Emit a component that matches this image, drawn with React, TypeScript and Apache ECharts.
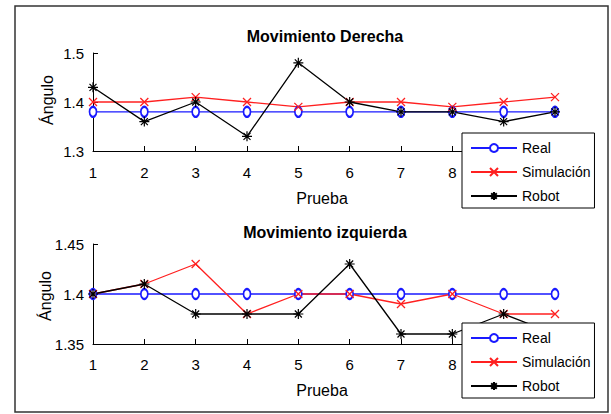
import React, { useEffect, useRef } from "react";
import * as echarts from "echarts";

const pruebas = [1, 2, 3, 4, 5, 6, 7, 8, 9, 10];
// tick labels of "Prueba" left visible (9 and 10 sit under the legend box)
const xTickLabels = ["1", "2", "3", "4", "5", "6", "7", "8"];

const derReal = [1.38, 1.38, 1.38, 1.38, 1.38, 1.38, 1.38, 1.38, 1.38, 1.38];
const derSim = [1.4, 1.4, 1.41, 1.4, 1.39, 1.4, 1.4, 1.39, 1.4, 1.41];
const derRobot = [1.43, 1.36, 1.4, 1.33, 1.48, 1.4, 1.38, 1.38, 1.36, 1.38];

const izqReal = [1.4, 1.4, 1.4, 1.4, 1.4, 1.4, 1.4, 1.4, 1.4, 1.4];
const izqSim = [1.4, 1.41, 1.43, 1.38, 1.4, 1.4, 1.39, 1.4, 1.38, 1.38];
const izqRobot = [1.4, 1.41, 1.38, 1.38, 1.38, 1.43, 1.36, 1.36, 1.38, 1.36];

const seriesNames = ["Real", "Simulación", "Robot"];
const titles = ["Movimiento Derecha", "Movimiento izquierda"];
const xName = "Prueba";
const yName = "Ángulo";

const FONT = "Liberation Sans";
const BLUE = "#1a1aff";
const RED = "#ff2020";
const BLACK = "#000000";

const X_SYMBOL = "path://M0,0L10,10M10,0L0,10";
const STAR_SYMBOL = "path://M5,0L5,10M0,5L10,5M1.5,1.5L8.5,8.5M8.5,1.5L1.5,8.5";

function pairs(vals: number[]) {
  return pruebas.map((p, i) => [p, vals[i]]);
}

function makeSeries(idx: number, real: number[], sim: number[], robot: number[]) {
  return [
    {
      name: seriesNames[0],
      type: "line",
      xAxisIndex: idx,
      yAxisIndex: idx,
      data: pairs(real),
      symbol: "emptyCircle",
      symbolSize: [7, 10],
      lineStyle: { color: BLUE, width: 1.3 },
      itemStyle: { color: BLUE, borderColor: BLUE, borderWidth: 1.3 },
    },
    {
      name: seriesNames[1],
      type: "line",
      xAxisIndex: idx,
      yAxisIndex: idx,
      data: pairs(sim),
      symbol: X_SYMBOL,
      symbolSize: [8, 8],
      lineStyle: { color: RED, width: 1.3 },
      itemStyle: { color: RED, borderColor: RED, borderWidth: 1.3 },
    },
    {
      name: seriesNames[2],
      type: "line",
      xAxisIndex: idx,
      yAxisIndex: idx,
      data: pairs(robot),
      symbol: STAR_SYMBOL,
      symbolSize: [10, 10],
      lineStyle: { color: BLACK, width: 1.3 },
      itemStyle: { color: BLACK, borderColor: BLACK, borderWidth: 1.2 },
    },
  ];
}

function xAxisCfg(gridIndex: number, margin: number) {
  return {
    type: "value",
    gridIndex,
    min: 1,
    max: 10,
    interval: 1,
    axisLine: { show: true, lineStyle: { color: "#000", width: 1 } },
    axisTick: { show: true, inside: true, length: 5, lineStyle: { color: "#000" } },
    axisLabel: {
      color: "#000",
      fontSize: 15,
      fontFamily: FONT,
      margin,
      formatter: (v: number) => (xTickLabels.includes(String(v)) ? String(v) : ""),
    },
    splitLine: { show: false },
  };
}

function yAxisCfg(gridIndex: number, min: number, max: number, interval: number) {
  return {
    type: "value",
    gridIndex,
    min,
    max,
    interval,
    axisLine: { show: true, lineStyle: { color: "#000", width: 1 } },
    axisTick: { show: true, inside: true, length: 5, lineStyle: { color: "#000" } },
    axisLabel: { color: "#000", fontSize: 15, fontFamily: FONT, margin: 9 },
    splitLine: { show: false },
  };
}

function legendCfg(top: number) {
  return {
    data: seriesNames,
    orient: "vertical",
    left: 462,
    top,
    padding: [8, 4, 5, 8],
    itemGap: 10,
    itemWidth: 46,
    itemHeight: 10,
    backgroundColor: "#fff",
    borderColor: "#000",
    borderWidth: 1,
    borderRadius: 0,
    selectedMode: false,
    textStyle: { color: "#000", fontSize: 14, fontFamily: FONT },
  };
}

export default function App() {
  const ref = useRef<HTMLDivElement>(null);

  useEffect(() => {
    document.body.style.margin = "0";
    if (!ref.current) return;
    const chart = echarts.init(ref.current, null, { renderer: "svg" });
    chart.setOption({
      animation: false,
      backgroundColor: "#fff",
      textStyle: { fontFamily: FONT },
      grid: [
        { left: 93, top: 53, width: 462, height: 98 },
        { left: 93, top: 244, width: 462, height: 100 },
      ],
      xAxis: [xAxisCfg(0, 14), xAxisCfg(1, 13)],
      yAxis: [yAxisCfg(0, 1.3, 1.5, 0.1), yAxisCfg(1, 1.35, 1.45, 0.05)],
      legend: [legendCfg(133), legendCfg(323)],
      series: [
        ...makeSeries(0, derReal, derSim, derRobot),
        ...makeSeries(1, izqReal, izqSim, izqRobot),
      ],
      graphic: [
        {
          type: "rect",
          shape: { x: 15, y: 6, width: 593, height: 406 },
          style: { fill: "none", stroke: "#333", lineWidth: 1.5 },
          silent: true,
        },
        {
          type: "text",
          x: 325,
          y: 36,
          style: { text: titles[0], fill: "#000", font: `bold 16px "${FONT}"`, textAlign: "center", textVerticalAlign: "middle" },
        },
        {
          type: "text",
          x: 325,
          y: 232,
          style: { text: titles[1], fill: "#000", font: `bold 16px "${FONT}"`, textAlign: "center", textVerticalAlign: "middle" },
        },
        {
          type: "text",
          x: 322,
          y: 198,
          style: { text: xName, fill: "#000", font: `16px "${FONT}"`, textAlign: "center", textVerticalAlign: "middle" },
        },
        {
          type: "text",
          x: 322,
          y: 390,
          style: { text: xName, fill: "#000", font: `16px "${FONT}"`, textAlign: "center", textVerticalAlign: "middle" },
        },
        {
          type: "text",
          x: 47,
          y: 100,
          rotation: Math.PI / 2,
          style: { text: yName, fill: "#000", font: `16px "${FONT}"`, textAlign: "center", textVerticalAlign: "middle" },
        },
        {
          type: "text",
          x: 45,
          y: 296,
          rotation: Math.PI / 2,
          style: { text: yName, fill: "#000", font: `16px "${FONT}"`, textAlign: "center", textVerticalAlign: "middle" },
        },
      ],
    });
    return () => chart.dispose();
  }, []);

  return <div ref={ref} style={{ width: 611, height: 414 }} />;
}
